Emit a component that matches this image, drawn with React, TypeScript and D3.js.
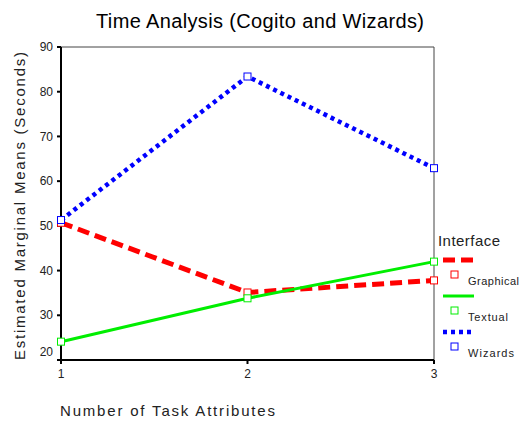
import React, { useEffect, useRef } from "react";
import * as d3 from "d3";

const attributes = [1, 2, 3];
const graphical = [50.7, 35.1, 37.8];
const textual = [24.1, 33.8, 42.0];
const wizards = [51.3, 83.4, 62.9];
const yTicks = [20, 30, 40, 50, 60, 70, 80, 90];

const series = [
  { name: "Graphical", values: graphical, color: "#ff0000", width: 5, dash: "12,6", len: 51 },
  { name: "Textual", values: textual, color: "#00ee00", width: 3, dash: null, len: 40 },
  { name: "Wizards", values: wizards, color: "#0000ff", width: 4.5, dash: "4,4", len: 46 },
];

const App = () => {
  const ref = useRef<SVGSVGElement>(null);

  useEffect(() => {
    const svg = d3.select(ref.current);
    svg.selectAll("*").remove();

    const margin = { top: 47, left: 61, right: 434, bottom: 360 };
    const x = d3.scaleLinear().domain([1, 3]).range([margin.left, margin.right]);
    const y = d3.scaleLinear().domain([20, 90]).range([margin.bottom, margin.top]);
    const font = "Arial, 'Liberation Sans', sans-serif";

    // title
    svg
      .append("text")
      .attr("x", 96)
      .attr("y", 28)
      .attr("font-family", font)
      .attr("font-size", 20)
      .attr("fill", "#000")
      .attr("textLength", 328)
      .attr("lengthAdjust", "spacing")
      .text("Time Analysis (Cogito and Wizards)");

    // frame top/right
    svg
      .append("path")
      .attr("d", `M${margin.left},${margin.top}H${margin.right}V${margin.bottom}`)
      .attr("fill", "none")
      .attr("stroke", "#444")
      .attr("stroke-width", 1);

    // y axis
    const yAxis = svg.append("g").attr("transform", `translate(${margin.left},0)`);
    yAxis
      .append("line")
      .attr("x1", 0)
      .attr("x2", 0)
      .attr("y1", margin.top)
      .attr("y2", margin.bottom)
      .attr("stroke", "#000")
      .attr("stroke-width", 2);
    yTicks.forEach((t) => {
      yAxis
        .append("line")
        .attr("x1", -4)
        .attr("x2", 0)
        .attr("y1", y(t))
        .attr("y2", y(t))
        .attr("stroke", "#000")
        .attr("stroke-width", 2);
      yAxis
        .append("text")
        .attr("x", -8)
        .attr("y", t === 20 ? y(t) - 8 : y(t))
        .attr("dy", "0.35em")
        .attr("text-anchor", "end")
        .attr("font-family", font)
        .attr("font-size", 12)
        .attr("fill", "#222")
        .text(t);
    });

    // x axis
    const xAxis = svg.append("g").attr("transform", `translate(0,${margin.bottom})`);
    xAxis
      .append("line")
      .attr("x1", margin.left)
      .attr("x2", margin.right)
      .attr("y1", 0)
      .attr("y2", 0)
      .attr("stroke", "#000")
      .attr("stroke-width", 2);
    attributes.forEach((a) => {
      xAxis
        .append("line")
        .attr("x1", x(a))
        .attr("x2", x(a))
        .attr("y1", 0)
        .attr("y2", 4)
        .attr("stroke", "#000")
        .attr("stroke-width", 2);
      xAxis
        .append("text")
        .attr("x", x(a))
        .attr("y", 18)
        .attr("text-anchor", "middle")
        .attr("font-family", font)
        .attr("font-size", 12)
        .attr("fill", "#222")
        .text(a);
    });

    // axis titles
    svg
      .append("text")
      .attr("x", 60)
      .attr("y", 416)
      .attr("font-family", font)
      .attr("font-size", 15)
      .attr("fill", "#222")
      .attr("textLength", 215)
      .attr("lengthAdjust", "spacing")
      .text("Number of Task Attributes");
    svg
      .append("text")
      .attr("transform", `translate(25,360) rotate(-90)`)
      .attr("font-family", font)
      .attr("font-size", 15)
      .attr("fill", "#222")
      .attr("textLength", 308)
      .attr("lengthAdjust", "spacing")
      .text("Estimated Marginal Means (Seconds)");

    // lines
    const line = d3
      .line<number>()
      .x((_, i) => x(attributes[i]))
      .y((d) => y(d));

    series.forEach((s) => {
      const p = svg
        .append("path")
        .datum(s.values)
        .attr("fill", "none")
        .attr("stroke", s.color)
        .attr("stroke-width", s.width)
        .attr("d", line);
      if (s.dash) p.attr("stroke-dasharray", s.dash);
      svg
        .append("g")
        .selectAll("rect")
        .data(s.values)
        .enter()
        .append("rect")
        .attr("x", (_, i) => x(attributes[i]) - 3.5)
        .attr("y", (d) => y(d) - 3.5)
        .attr("width", 7)
        .attr("height", 7)
        .attr("fill", "#fff")
        .attr("stroke", s.color)
        .attr("stroke-width", 1);
    });

    // legend
    const lg = svg.append("g");
    lg.append("text")
      .attr("x", 438)
      .attr("y", 246)
      .attr("font-family", font)
      .attr("font-size", 15)
      .attr("fill", "#222")
      .attr("textLength", 62)
      .attr("lengthAdjust", "spacing")
      .text("Interface");
    series.forEach((s, i) => {
      const y0 = 260 + i * 36;
      const l = lg
        .append("line")
        .attr("x1", 443)
        .attr("x2", 474)
        .attr("y1", y0)
        .attr("y2", y0)
        .attr("stroke", s.color)
        .attr("stroke-width", s.width);
      if (s.dash) l.attr("stroke-dasharray", s.dash);
      lg.append("rect")
        .attr("x", 451)
        .attr("y", y0 + 11)
        .attr("width", 7)
        .attr("height", 7)
        .attr("fill", "#fff")
        .attr("stroke", s.color)
        .attr("stroke-width", 1);
      lg.append("text")
        .attr("x", 468)
        .attr("y", y0 + 25)
        .attr("font-family", font)
        .attr("font-size", 11)
        .attr("fill", "#222")
        .attr("textLength", s.len)
        .attr("lengthAdjust", "spacing")
        .text(s.name);
    });
  }, []);

  return (
    <svg
      ref={ref}
      width={520}
      height={421}
      style={{ position: "absolute", left: 0, top: 0, background: "#fff" }}
    />
  );
};

export default App;
